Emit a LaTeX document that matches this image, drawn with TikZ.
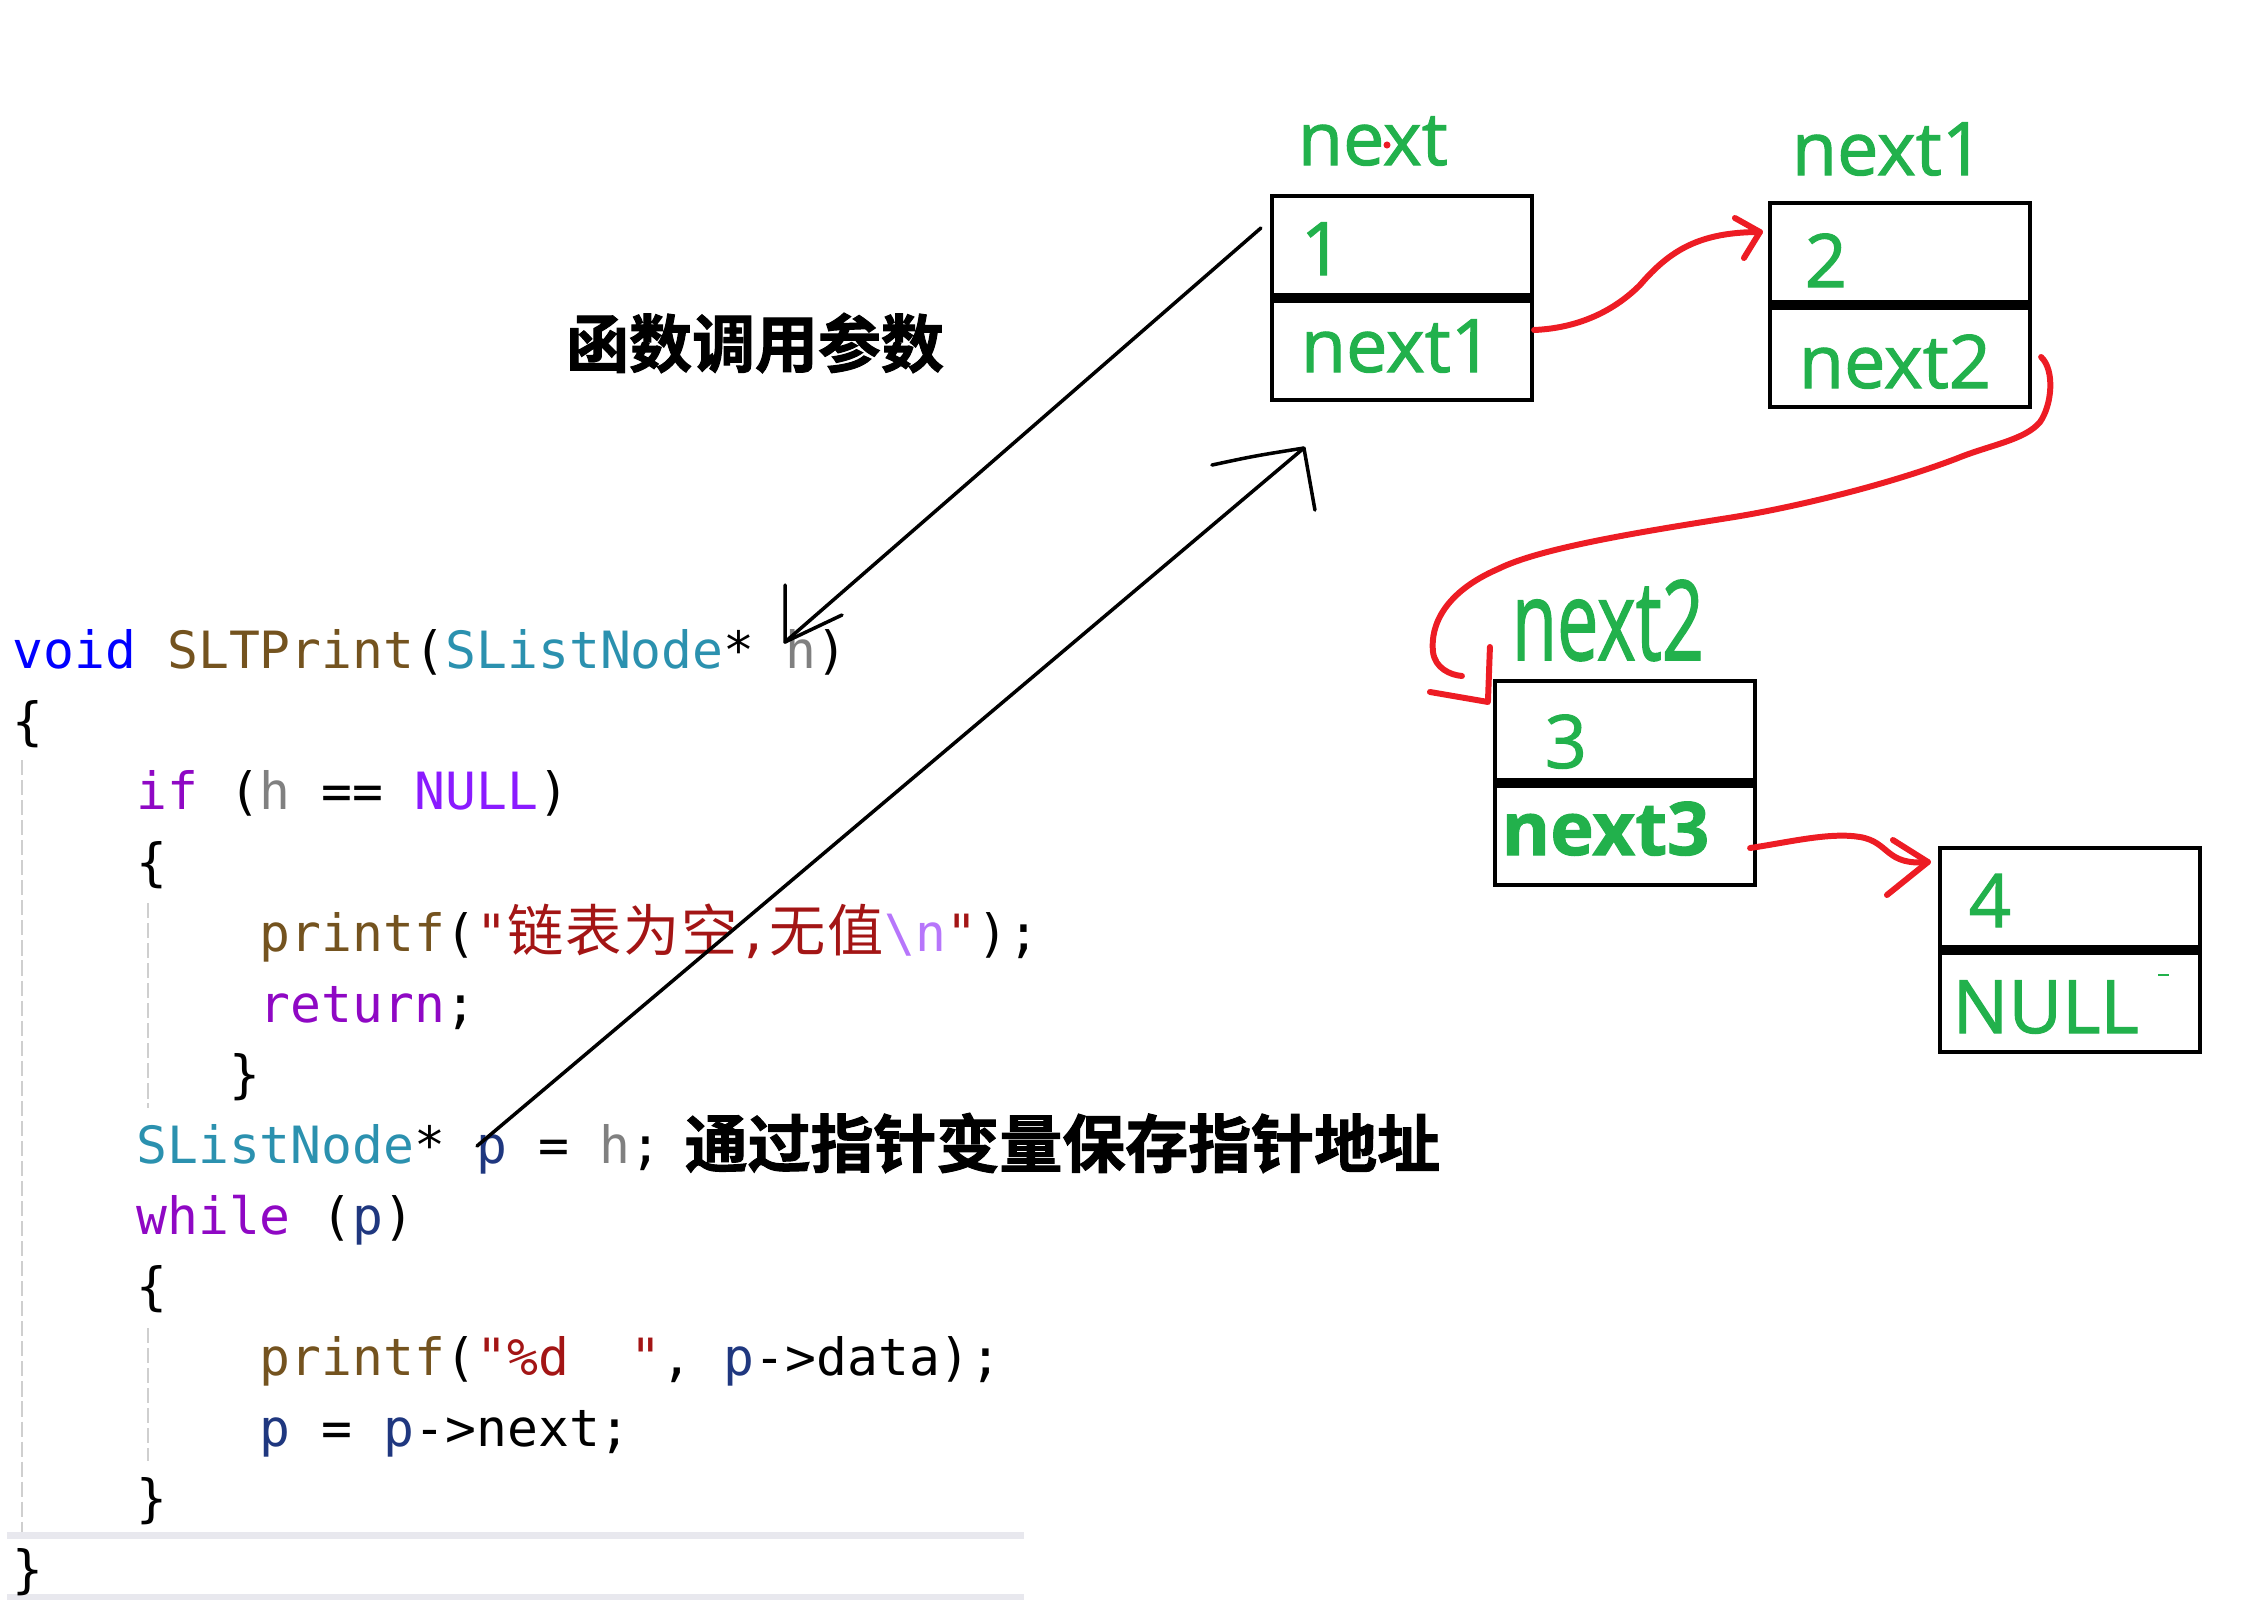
\documentclass[tikz,border=0pt]{standalone}
\usepackage{fontspec}
\setmainfont{Open Sans}
\setmonofont{DejaVu Sans Mono}
\newfontfamily\cjk{Noto Sans CJK SC}[BoldFont={Noto Sans CJK SC Bold}]
\newfontfamily\cjkheavy{Noto Sans CJK SC Bold}[FakeBold=1.6]
\newfontfamily\paint{Open Sans}[FakeBold=1.4]
\usetikzlibrary{positioning, arrows.meta}

\definecolor{paintgreen}{HTML}{22B14C}
\definecolor{inkred}{HTML}{ED1C24}
\definecolor{kwblue}{HTML}{0000FF}
\definecolor{fnbrown}{HTML}{74531F}
\definecolor{typeteal}{HTML}{2B91AF}
\definecolor{paramgray}{HTML}{808080}
\definecolor{ctrlpurple}{HTML}{8F08C4}
\definecolor{macroviolet}{HTML}{8A1BFF}
\definecolor{strred}{HTML}{A31515}
\definecolor{escpurple}{HTML}{B776FB}
\definecolor{varnavy}{HTML}{1F377F}
\definecolor{guidegray}{HTML}{CFCFCF}
\definecolor{bargray}{HTML}{E8E8EE}

% code colouring
\newcommand{\cKw}[1]{\textcolor{kwblue}{#1}}
\newcommand{\cFn}[1]{\textcolor{fnbrown}{#1}}
\newcommand{\cTy}[1]{\textcolor{typeteal}{#1}}
\newcommand{\cPm}[1]{\textcolor{paramgray}{#1}}
\newcommand{\cCt}[1]{\textcolor{ctrlpurple}{#1}}
\newcommand{\cMc}[1]{\textcolor{macroviolet}{#1}}
\newcommand{\cSt}[1]{\textcolor{strred}{#1}}
\newcommand{\cEs}[1]{\textcolor{escpurple}{#1}}
\newcommand{\cVr}[1]{\textcolor{varnavy}{#1}}
\newcommand{\wide}[1]{\makebox[1.125em][c]{\cjk\fontsize{16}{18}\selectfont #1}}

\begin{document}
\begin{tikzpicture}[
    x=0.01cm, y=-0.01cm,
    cell/.style={draw, line width=1.2pt, minimum width=2.6cm, minimum height=1.02cm, inner sep=0pt, outer sep=0pt},
    divider/.style={line width=3pt},
    val/.style={anchor=base west, inner sep=0pt, text=paintgreen, font=\paint\fontsize{21}{24}\selectfont},
    tag/.style={val},
    code/.style={anchor=base west, inner sep=0pt, font=\ttfamily\fontsize{14.6}{17}\selectfont},
    note/.style={inner sep=0pt, font=\cjkheavy\fontsize{17.9}{20}\selectfont},
    ink/.style={line width=1pt, line cap=round, line join=round},
    redpen/.style={draw=inkred, line width=1.7pt, line cap=round, line join=round},
    guide/.style={draw=guidegray, line width=0.6pt, dash pattern=on 4.3pt off 1.4pt},
]
\useasboundingbox (0,0) rectangle (2258,1606);

% === editor background ===
\fill[bargray] (7,1532) rectangle (1024,1539);
\fill[bargray] (7,1594) rectangle (1024,1600);
\draw[guide] (22,760) -- (22,1532);
\draw[guide] (148,903) -- (148,1108);
\draw[guide] (148,1328) -- (148,1461);

% === code ===
\node[code] (l0) at (12,668) {\cKw{void} \cFn{SLTPrint}(\cTy{SListNode}* \cPm{h})};
\node[code] (l1) at (12,739) {\{};
\node[code] (l2) at (135.6,809) {\cCt{if} (\cPm{h} == \cMc{NULL})};
\node[code] (l3) at (135.6,880) {\{};
\node[code] (l4) at (259.2,951) {\cFn{printf}(\cSt{"\wide{链}\wide{表}\wide{为}\wide{空},\wide{无}\wide{值}}\cEs{\textbackslash n}\cSt{"});};
\node[code] (l5) at (259.2,1022) {\cCt{return};};
\node[code] (l6) at (228.3,1092) {\}};
\node[code] (l7) at (135.6,1163) {\cTy{SListNode}* \cVr{p} = \cPm{h};};
\node[code] (l8) at (135.6,1234) {\cCt{while} (\cVr{p})};
\node[code] (l9) at (135.6,1304) {\{};
\node[code] (l10) at (259.2,1375) {\cFn{printf}(\cSt{"\%d\ \ "}, \cVr{p}->data);};
\node[code] (l11) at (259.2,1446) {\cVr{p} = \cVr{p}->next;};
\node[code] (l12) at (135.6,1516) {\}};
\node[code] (l13) at (12,1587) {\}};

% === notes ===
\node[note] (callnote) at (755,343) {函数调用参数};
\node[note, anchor=west] (savenote) at (684,1143) {通过指针变量保存指针地址};

% === list nodes ===
\node[cell] (n1val) at (1402,247) {};
\node[cell] (n1ptr) at (1402,349) {};
\draw[divider] (n1val.south west) -- (n1val.south east);
\node[cell] (n2val) at (1900,254) {};
\node[cell] (n2ptr) at (1900,356) {};
\draw[divider] (n2val.south west) -- (n2val.south east);
\node[cell] (n3val) at (1625,732) {};
\node[cell] (n3ptr) at (1625,834) {};
\draw[divider] (n3val.south west) -- (n3val.south east);
\node[cell] (n4val) at (2070,899) {};
\node[cell] (n4ptr) at (2070,1001) {};
\draw[divider] (n4val.south west) -- (n4val.south east);

\node[tag] (lbl1) at (1297,165) {next};
\node[tag] (lbl2) at (1791,175) {next1};
\node[tag, xscale=1.0, yscale=1.5] (lbl3) at (1511,660) {next2};

\node[val] (v1) at (1300,275) {1};
\node[val] (p1) at (1300,372) {next1};
\node[val] (v2) at (1804,287) {2};
\node[val] (p2) at (1798,388) {next2};
\node[val] (v3) at (1544,768) {3};
\node[val, font=\paint\bfseries\fontsize{21}{24}\selectfont] (p3) at (1501,855) {next3};
\node[val] (v4) at (1968,927) {4};
\node[val] (p4) at (1952,1033) {NULL};
\fill[inkred] (1387,145) circle (1pt);
\draw[paintgreen, line width=0.7pt] (2158,975) -- (2169,975);

% === call arrows ===
\coordinate (hparam) at (785,642);
\coordinate (pvar) at (477,1146);
\draw[ink] ([shift={(-11,-19)}]n1val.west) -- (hparam);
\draw[ink] ([shift={(0,-57)}]hparam) -- (hparam) -- ++(57,-27);

\coordinate (backtip) at ([shift={(32,48)}]n1ptr.south west);
\draw[ink] (pvar) -- (backtip);
\draw[ink] ([shift={(-92,17)}]backtip) .. controls ([shift={(-50,8)}]backtip) .. (backtip) -- ++(11,62);

% === red links ===
\coordinate (tipA) at ([shift={(-10,-22)}]n2val.west);
\draw[redpen] ([shift={(2,-19)}]n1ptr.east) .. controls (1580,328) and (1615,310) .. (1640,285) .. controls (1670,250) and (1700,232) .. (tipA);
\draw[redpen] ([shift={(-25,-14)}]tipA) -- (tipA) -- ++(-16,26);

\coordinate (tipB) at ([shift={(-7,21)}]n3val.north west);
\draw[redpen] ([shift={(11,1)}]n2ptr.east) .. controls (2055,370) and (2052,405) .. (2040,422)
    .. controls (2025,440) and (1990,445) .. (1958,458)
    .. controls (1880,488) and (1780,510) .. (1728,518)
    .. controls (1640,532) and (1540,548) .. (1498,569)
    .. controls (1445,592) and (1430,625) .. (1433,652)
    .. controls (1435,668) and (1450,675) .. ([shift={(-26,-26)}]tipB);
\draw[redpen] ([shift={(2,-55)}]tipB) -- (tipB) -- ++(-58,-10);

\coordinate (tipC) at ([shift={(-12,-37)}]n4val.west);
\draw[redpen] ([shift={(-5,14)}]n3ptr.east) .. controls (1790,842) and (1830,832) .. (1860,837) .. controls (1890,842) and (1885,866) .. (tipC);
\draw[redpen] ([shift={(-35,-22)}]tipC) -- (tipC) -- ++(-41,33);

\end{tikzpicture}
\end{document}
